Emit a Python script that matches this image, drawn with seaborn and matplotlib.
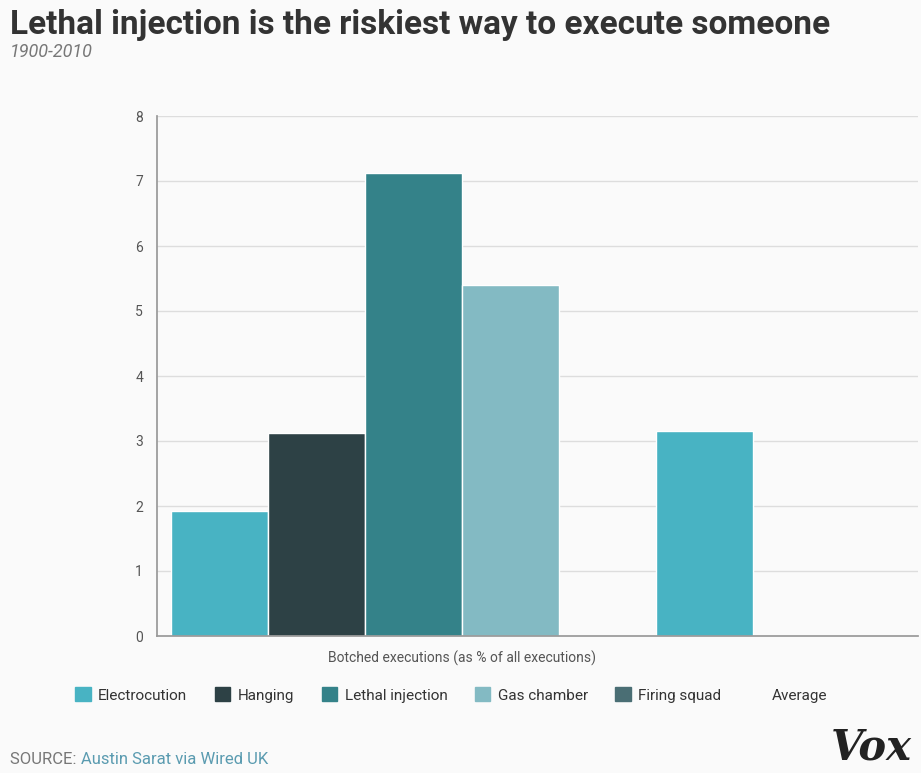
import matplotlib
matplotlib.use("Agg")
import matplotlib.pyplot as plt
import matplotlib.patches as mpatches
import seaborn as sns
import pandas as pd

methods = ["Electrocution", "Hanging", "Lethal injection", "Gas chamber", "Firing squad", "Average"]
values = [1.92, 3.12, 7.12, 5.40, 0.0, 3.15]
colors = ["#48b3c3", "#2d4145", "#348289", "#83bac3", "#4a6e74", "#48b3c3"]

sns.set_theme(style="white")
plt.rcParams['font.family'] = ['Roboto', 'DejaVu Sans']

df = pd.DataFrame({"method": methods, "value": values})

fig = plt.figure(figsize=(9.21, 7.73), dpi=100, facecolor="#fafafa")
ax = fig.add_axes([157/921, 1-636/773, (918-157)/921, (636-116)/773])
ax.set_facecolor("#fafafa")
sns.barplot(data=df, x="method", y="value", hue="method", palette=colors,
            width=1.0, saturation=1, legend=False, ax=ax, edgecolor="white", linewidth=1)
ax.set_xlim(-0.645, 7.2)
ax.set_ylim(0, 8)
ax.set_yticks(range(9))
ax.yaxis.grid(True, color="#dddddd", linewidth=1)
ax.set_axisbelow(True)
ax.set_xticks([])
ax.set_xlabel("")
ax.set_ylabel("")
ax.tick_params(axis="y", labelsize=10, colors="#555555", length=0, pad=10)
for s in ["top", "right"]:
    ax.spines[s].set_visible(False)
ax.spines["left"].set_color("#999999")
ax.spines["bottom"].set_color("#999999")
ax.text(2.5, -0.22, "Botched executions (as % of all executions)", ha="center", va="top",
        fontsize=10, color="#555555")

handles = [mpatches.Patch(color=c, label=m) for c, m in zip(colors[:5], methods[:5])]
handles.append(mpatches.Patch(color="none", label=methods[5]))
fig.legend(handles=handles, loc="center", bbox_to_anchor=(0.49, 1-695/773), ncol=6,
           frameon=False, fontsize=11, handlelength=1.0, handleheight=1.0,
           columnspacing=1.8, handletextpad=0.5, labelcolor="#333333")

fig.text(10/921, 1-25/773, "Lethal injection is the riskiest way to execute someone",
         fontsize=24, fontweight="bold", color="#333333", va="center")
fig.text(10/921, 1-52/773, "1900-2010", fontsize=13, style="italic", color="#777777", va="center")
t = fig.text(10/921, 1-760/773, "SOURCE: ", fontsize=12, color="#777777", va="center")
fig.canvas.draw()
bb = t.get_window_extent()
fig.text(bb.x1/921, 1-760/773, "Austin Sarat via Wired UK", fontsize=12, color="#5a9bb0", va="center")
fig.text(912/921, 1-748/773, "Vox", fontsize=30, fontweight="bold", style="italic",
         family="DejaVu Serif", color="#222222", ha="right", va="center")

fig.savefig("out.png", dpi=100, facecolor=fig.get_facecolor())
